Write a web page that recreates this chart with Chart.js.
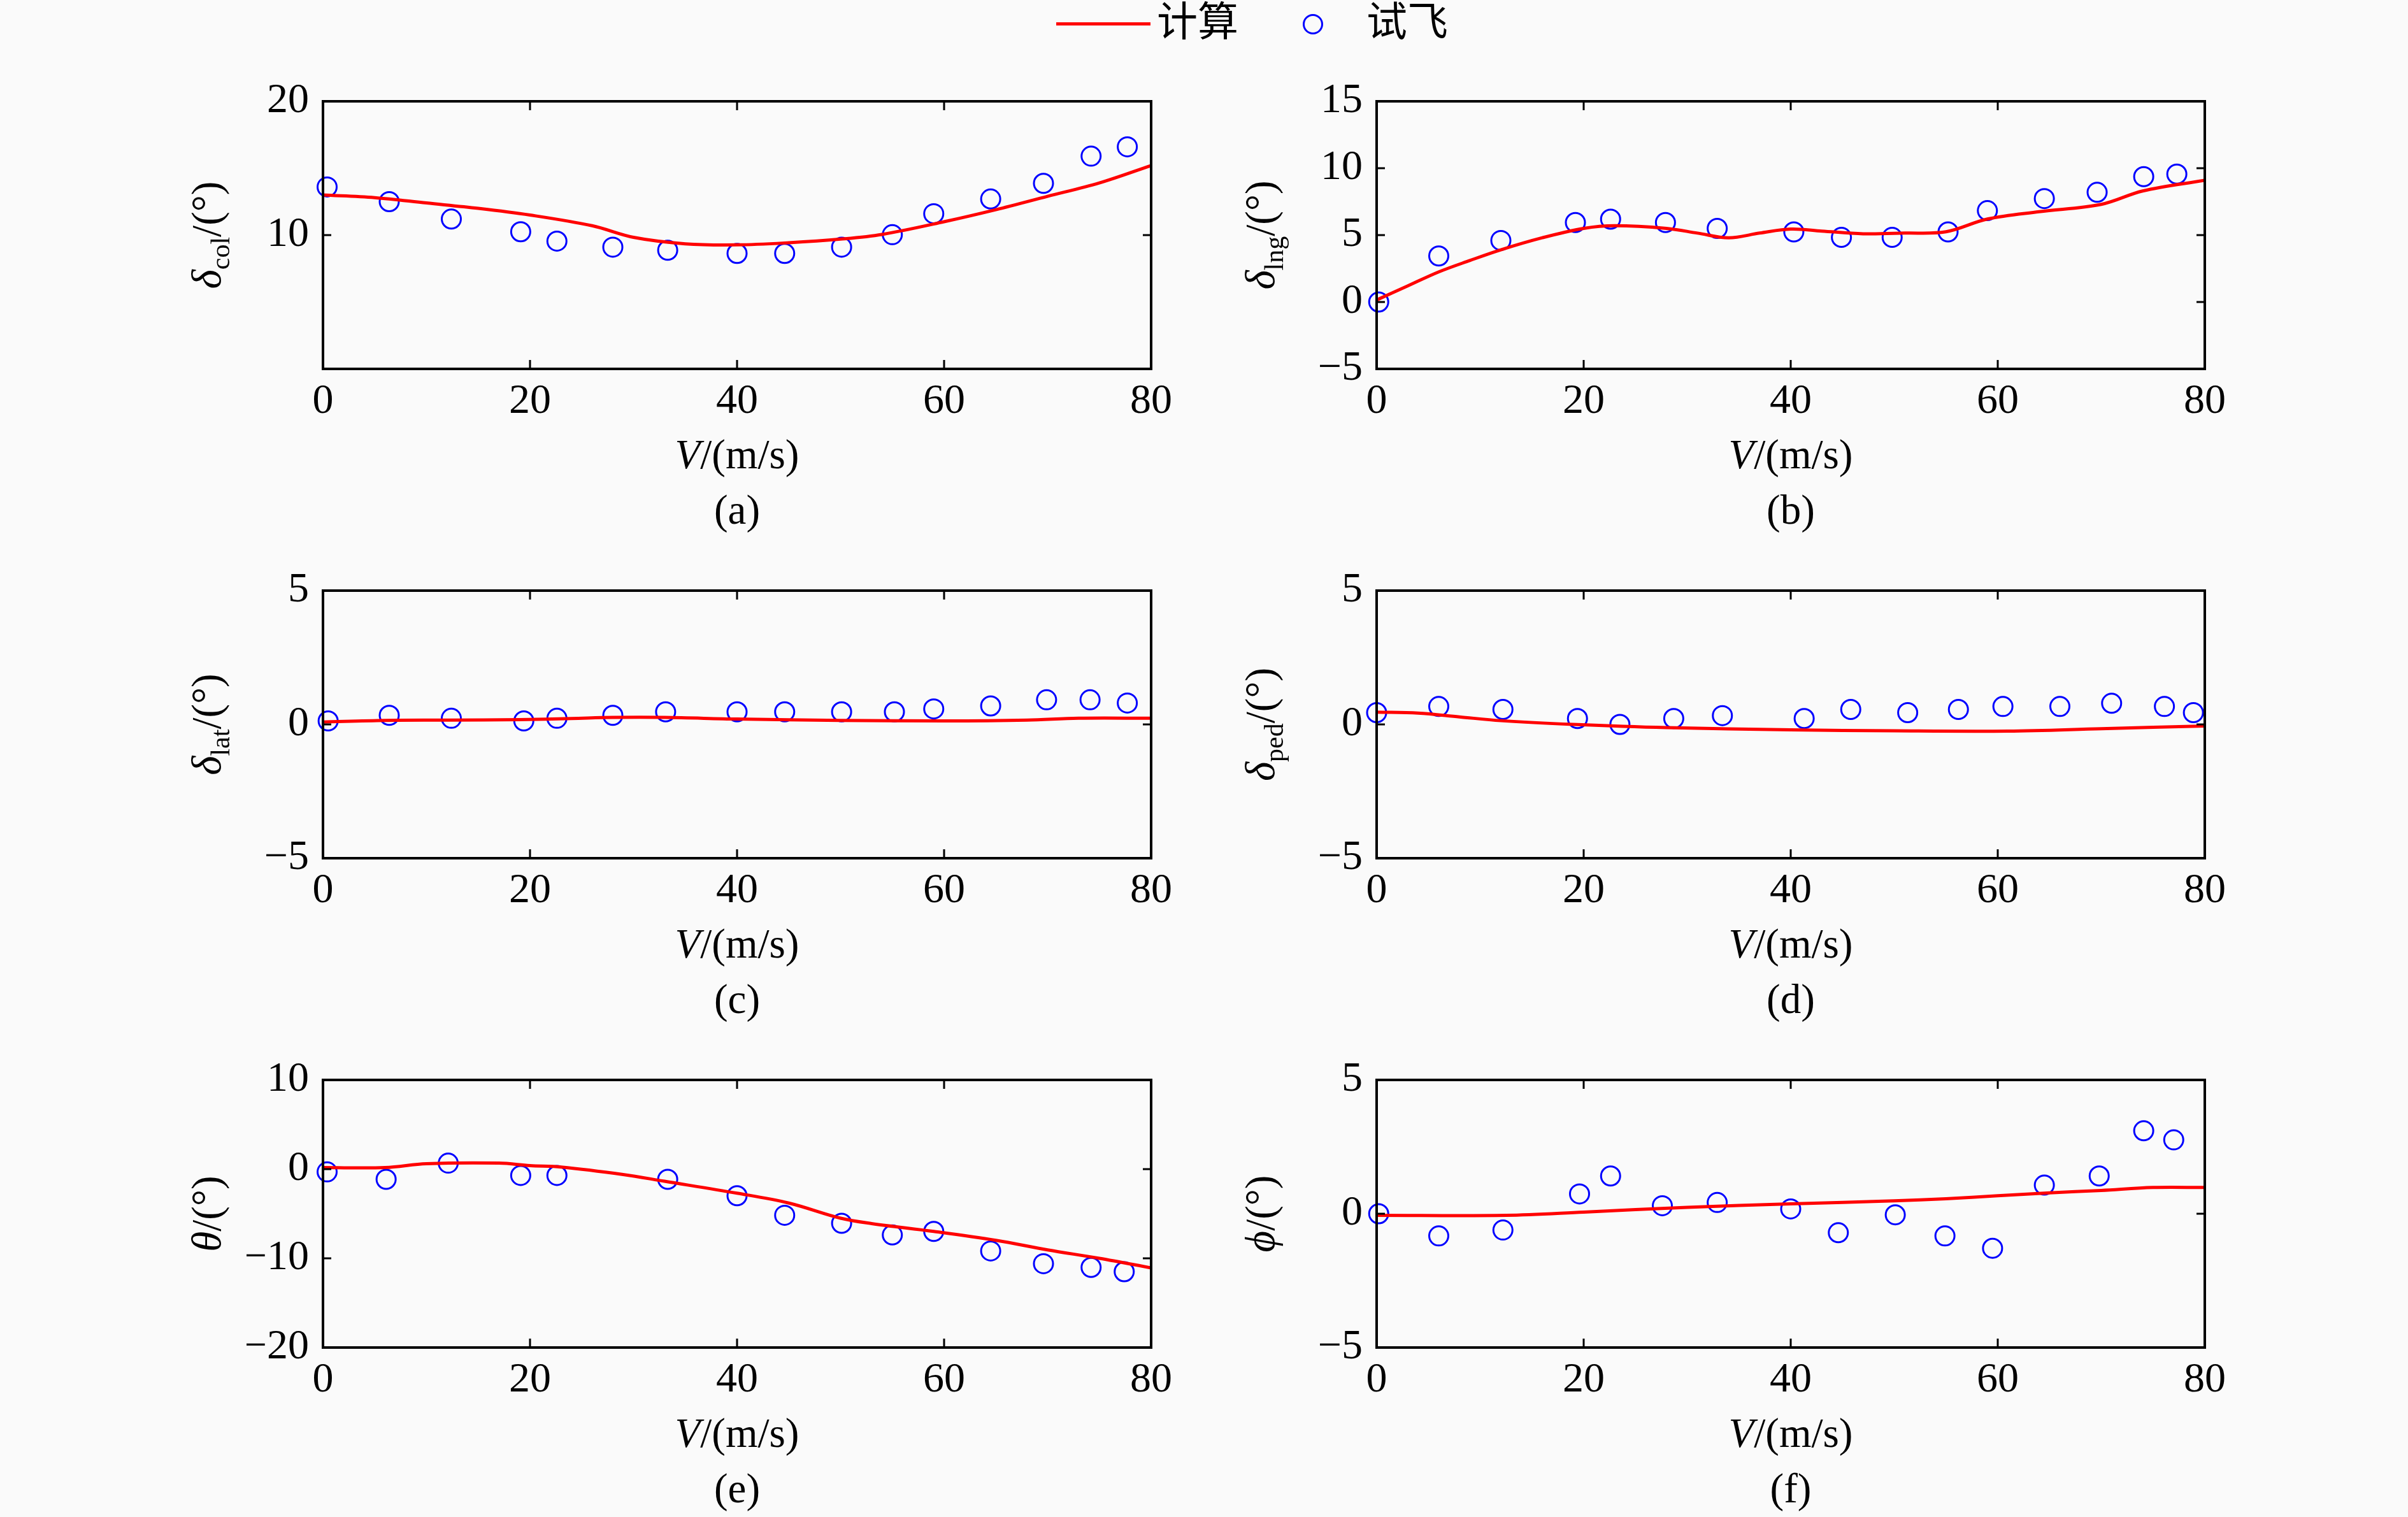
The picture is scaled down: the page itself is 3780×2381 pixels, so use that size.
<!DOCTYPE html>
<html>
<head>
<meta charset="utf-8">
<script src="https://cdn.jsdelivr.net/npm/chart.js@4.4.0/dist/chart.umd.min.js"></script>
<style>
  html, body { margin: 0; padding: 0; background: #fafafa; }
  #wrap { position: relative; width: 3780px; height: 2381px; overflow: hidden; }
  #wrap canvas { position: absolute; }
  .lg { position: absolute; font-family: "Noto Sans CJK SC", sans-serif; font-size: 64px; line-height: 1; color: #000; }
</style>
</head>
<body>
<div id="wrap">
  <div style="position:absolute;left:1658px;top:35px;width:148px;height:5px;background:#ff0000"></div>
  <div class="lg" style="left:1816px;top:-4px">计算</div>
  <div style="position:absolute;left:2045px;top:22px;width:26px;height:26px;border:3px solid #0000ff;border-radius:50%"></div>
  <div class="lg" style="left:2145px;top:-4px">试飞</div>
</div>
<script>
// ── 数据 ──────────────────────────────────────────────────────────────
const ticksV = [0, 20, 40, 60, 80];

// (a) 总距
const calcV_a = [0, 5, 10, 15, 20, 26, 30, 35, 40, 45, 50, 54, 60, 65, 70, 75, 80];
const calc_a  = [13.0, 12.8, 12.4, 12.0, 11.5, 10.7, 9.83, 9.35, 9.27, 9.43, 9.7, 10.05, 11.0, 11.9, 12.9, 13.9, 15.2];
const dotV_a  = [0.4, 6.4, 12.4, 19.1, 22.6, 28.0, 33.3, 40.0, 44.6, 50.1, 55.0, 59.0, 64.5, 69.6, 74.2, 77.7];
const dot_a   = [13.6, 12.5, 11.2, 10.25, 9.55, 9.1, 8.87, 8.63, 8.63, 9.1, 10.03, 11.6, 12.7, 13.87, 15.9, 16.6];
const yTicks_a = [10, 20];

// (b) 纵向
const calcV_b = [0, 3, 6, 9, 12, 16, 20, 23, 28, 31, 34, 37, 40, 43, 47, 51, 55, 59, 64, 70, 74, 80];
const calc_b  = [0.15, 1.2, 2.25, 3.1, 3.9, 4.8, 5.5, 5.7, 5.5, 5.15, 4.8, 5.15, 5.45, 5.3, 5.1, 5.15, 5.25, 6.2, 6.75, 7.3, 8.3, 9.1];
const dotV_b  = [0.2, 6.0, 12.0, 19.2, 22.6, 27.9, 32.9, 40.3, 44.9, 49.8, 55.2, 59.0, 64.5, 69.6, 74.1, 77.3];
const dot_b   = [0.0, 3.44, 4.6, 5.94, 6.19, 5.94, 5.5, 5.24, 4.83, 4.83, 5.24, 6.83, 7.73, 8.2, 9.37, 9.56];
const yTicks_b = [-5, 0, 5, 10, 15];

// (c) 横向
const calcV_c = [0, 6, 12, 19, 24, 28, 33, 40, 50, 60, 68, 73, 80];
const calc_c  = [0.09, 0.15, 0.16, 0.18, 0.22, 0.26, 0.26, 0.2, 0.15, 0.13, 0.16, 0.23, 0.23];
const dotV_c  = [0.5, 6.4, 12.4, 19.4, 22.6, 28.0, 33.1, 40.0, 44.6, 50.1, 55.2, 59.0, 64.5, 69.9, 74.1, 77.7];
const dot_c   = [0.13, 0.34, 0.23, 0.13, 0.23, 0.34, 0.47, 0.47, 0.47, 0.47, 0.47, 0.58, 0.69, 0.92, 0.92, 0.8];
const yTicks_c = [-5, 0, 5];

// (d) 脚蹬
const calcV_d = [0, 4, 8, 12, 19, 28, 40, 50, 61, 70, 80];
const calc_d  = [0.46, 0.42, 0.28, 0.14, 0.0, -0.12, -0.2, -0.24, -0.25, -0.16, -0.06];
const dotV_d  = [0, 6.0, 12.2, 19.4, 23.5, 28.7, 33.4, 41.3, 45.8, 51.3, 56.2, 60.5, 66.0, 71.0, 76.1, 78.9];
const dot_d   = [0.44, 0.67, 0.56, 0.22, 0.0, 0.22, 0.33, 0.22, 0.56, 0.44, 0.56, 0.67, 0.67, 0.79, 0.67, 0.44];
const yTicks_d = [-5, 0, 5];

// (e) 俯仰角
const calcV_e = [0, 6, 10, 17, 20, 23, 29, 33, 40, 45, 50, 53, 59, 65, 70, 75, 80];
const calc_e  = [0.17, 0.17, 0.6, 0.67, 0.4, 0.24, -0.6, -1.36, -2.7, -3.8, -5.5, -6.1, -6.98, -7.98, -9.05, -10.0, -11.07];
const dotV_e  = [0.4, 6.1, 12.1, 19.1, 22.6, 33.3, 40.0, 44.6, 50.1, 55.0, 59.0, 64.5, 69.6, 74.2, 77.4];
const dot_e   = [-0.31, -1.14, 0.67, -0.71, -0.71, -1.14, -2.98, -5.17, -6.07, -7.38, -6.98, -9.17, -10.6, -11.02, -11.5];
const yTicks_e = [-20, -10, 0, 10];

// (f) 滚转角
const calcV_f = [0, 12.5, 20, 30, 40, 50, 55, 60, 65, 70, 75, 80];
const calc_f  = [-0.06, -0.06, 0.06, 0.24, 0.37, 0.48, 0.56, 0.67, 0.78, 0.87, 0.98, 0.98];
const dotV_f  = [0.2, 6.0, 12.2, 19.6, 22.6, 27.6, 32.9, 40.0, 44.6, 50.1, 54.9, 59.5, 64.5, 69.8, 74.1, 77.0];
const dot_f   = [0.0, -0.83, -0.61, 0.74, 1.41, 0.3, 0.42, 0.18, -0.71, -0.04, -0.83, -1.29, 1.07, 1.41, 3.1, 2.76];
const yTicks_f = [-5, 0, 5];

// ── 绘图 ──────────────────────────────────────────────────────────────
const SERIF = '"Liberation Serif", "Times New Roman", serif';
const PW = 1300, PH = 420;          // 绘图区大小
const OFF_L = 260, OFF_T = 70;      // 画布相对绘图区的偏移

function drawRuns(ctx, runs, cx, baseY) {
  const fontOf = r => `${r.it ? 'italic ' : ''}${r.sub ? 42 : 65}px ${SERIF}`;
  let w = 0;
  runs.forEach(r => { ctx.font = fontOf(r); r.w = ctx.measureText(r.t).width; w += r.w; });
  let px = cx - w / 2;
  ctx.textAlign = 'left';
  ctx.textBaseline = 'alphabetic';
  runs.forEach(r => {
    ctx.font = fontOf(r);
    ctx.fillText(r.t, px, baseY + (r.sub ? 14 : 0));
    px += r.w;
  });
}

const frame = {
  id: 'frame',
  afterDatasetsDraw(chart, args, o) {
    const { ctx, chartArea: a, scales: { x, y } } = chart;
    ctx.save();
    ctx.strokeStyle = '#000';
    ctx.lineWidth = 3;
    ctx.beginPath();
    x.ticks.forEach(t => {
      const px = x.getPixelForValue(t.value);
      ctx.moveTo(px, a.bottom); ctx.lineTo(px, a.bottom - 14);
      ctx.moveTo(px, a.top);    ctx.lineTo(px, a.top + 14);
    });
    y.ticks.forEach(t => {
      const py = y.getPixelForValue(t.value);
      ctx.moveTo(a.left, py);  ctx.lineTo(a.left + 13, py);
      ctx.moveTo(a.right, py); ctx.lineTo(a.right - 13, py);
    });
    ctx.stroke();
    ctx.lineWidth = 4;
    ctx.strokeRect(a.left, a.top, a.right - a.left, a.bottom - a.top);

    ctx.fillStyle = '#000';
    const cx = (a.left + a.right) / 2;
    drawRuns(ctx, [{ t: 'V', it: true }, { t: '/(m/s)' }], cx, a.bottom + 156);
    drawRuns(ctx, [{ t: o.sub }], cx, a.bottom + 243);

    ctx.translate(a.left - 161, (a.top + a.bottom) / 2);
    ctx.rotate(-Math.PI / 2);
    drawRuns(ctx, o.ytitle.map(r => ({ ...r })), 0, 0);
    ctx.restore();
  }
};

const tickFont = { family: SERIF, size: 66 };
const wrap = document.getElementById('wrap');

function makePanel(left, top, p) {
  const cv = document.createElement('canvas');
  cv.width = OFF_L + PW + 90;
  cv.height = OFF_T + PH + 265;
  cv.style.left = (left - OFF_L) + 'px';
  cv.style.top = (top - OFF_T) + 'px';
  wrap.appendChild(cv);

  new Chart(cv, {
    data: {
      datasets: [
        { type: 'line', label: '计算', data: p.lv.map((v, i) => ({ x: v, y: p.ly[i] })),
          borderColor: '#ff0000', borderWidth: 5, pointRadius: 0, tension: 0.35, fill: false },
        { type: 'scatter', label: '试飞', data: p.dv.map((v, i) => ({ x: v, y: p.dy[i] })),
          borderColor: '#0000ff', borderWidth: 3, backgroundColor: 'rgba(0,0,0,0)',
          pointRadius: 15, pointStyle: 'circle', clip: false },
      ]
    },
    options: {
      responsive: false, animation: false, devicePixelRatio: 1,
      layout: { padding: { left: OFF_L - 120, top: OFF_T, right: 90, bottom: 185 } },
      plugins: {
        legend: { display: false }, tooltip: { enabled: false },
        frame: { ytitle: p.ytitle, sub: p.sub }
      },
      scales: {
        x: {
          type: 'linear', min: 0, max: 80,
          afterBuildTicks: s => { s.ticks = ticksV.map(v => ({ value: v })); },
          afterFit: s => { s.height = 80; },
          grid: { display: false, drawTicks: false }, border: { display: false },
          ticks: { font: tickFont, color: '#000', padding: 12, maxRotation: 0 }
        },
        y: {
          type: 'linear', min: p.min, max: p.max,
          afterBuildTicks: s => { s.ticks = p.yt.map(v => ({ value: v })); },
          afterFit: s => { s.width = 120; },
          grid: { display: false, drawTicks: false }, border: { display: false },
          ticks: { font: tickFont, color: '#000', padding: 22,
                   callback: v => String(v).replace('-', '\u2212') }
        }
      }
    },
    plugins: [frame]
  });
}

const col1 = 507, col2 = 2161;
const row1 = 159, row2 = 927, row3 = 1695;

makePanel(col1, row1, { lv: calcV_a, ly: calc_a, dv: dotV_a, dy: dot_a, yt: yTicks_a, min: 0, max: 20, sub: '(a)',
  ytitle: [{ t: '\u03b4', it: true }, { t: 'col', sub: true }, { t: '/(°)' }] });
makePanel(col2, row1, { lv: calcV_b, ly: calc_b, dv: dotV_b, dy: dot_b, yt: yTicks_b, min: -5, max: 15, sub: '(b)',
  ytitle: [{ t: '\u03b4', it: true }, { t: 'lng', sub: true }, { t: '/(°)' }] });
makePanel(col1, row2, { lv: calcV_c, ly: calc_c, dv: dotV_c, dy: dot_c, yt: yTicks_c, min: -5, max: 5, sub: '(c)',
  ytitle: [{ t: '\u03b4', it: true }, { t: 'lat', sub: true }, { t: '/(°)' }] });
makePanel(col2, row2, { lv: calcV_d, ly: calc_d, dv: dotV_d, dy: dot_d, yt: yTicks_d, min: -5, max: 5, sub: '(d)',
  ytitle: [{ t: '\u03b4', it: true }, { t: 'ped', sub: true }, { t: '/(°)' }] });
makePanel(col1, row3, { lv: calcV_e, ly: calc_e, dv: dotV_e, dy: dot_e, yt: yTicks_e, min: -20, max: 10, sub: '(e)',
  ytitle: [{ t: '\u03b8', it: true }, { t: '/(°)' }] });
makePanel(col2, row3, { lv: calcV_f, ly: calc_f, dv: dotV_f, dy: dot_f, yt: yTicks_f, min: -5, max: 5, sub: '(f)',
  ytitle: [{ t: '\u03d5', it: true }, { t: '/(°)' }] });
</script>
</body>
</html>
